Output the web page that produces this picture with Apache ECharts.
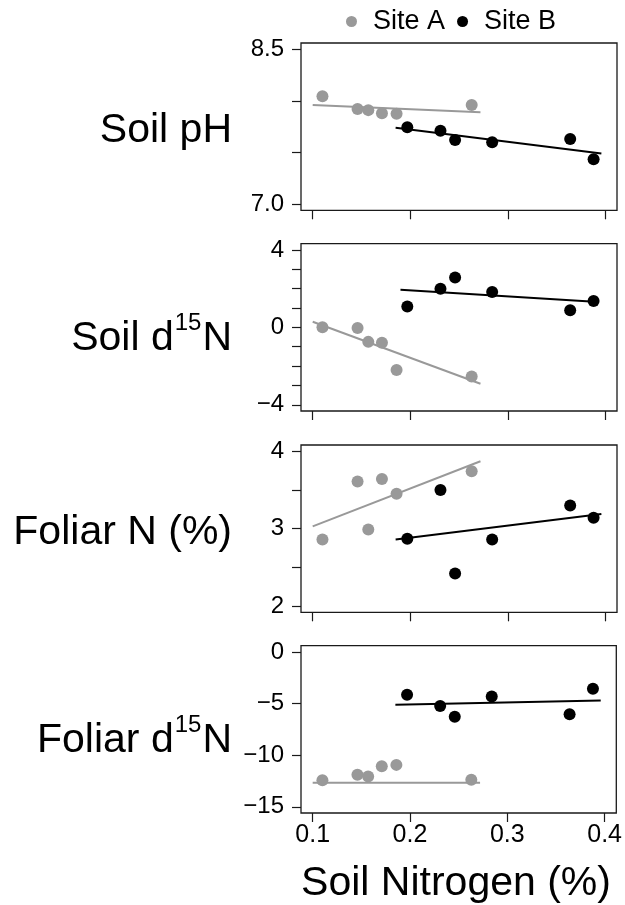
<!DOCTYPE html>
<html>
<head>
<meta charset="utf-8">
<script src="https://cdn.jsdelivr.net/npm/echarts@6/dist/echarts.min.js"></script>
<style>
  html, body { margin: 0; padding: 0; background: #fff; }
  #chart { width: 625px; height: 905px; }
</style>
</head>
<body>
<div id="chart"></div>
<script>
// Soil nitrogen (%) of the sampled plots at each site
const soilN_A = [0.110, 0.146, 0.157, 0.171, 0.186, 0.263];
const soilN_B = [0.197, 0.231, 0.246, 0.284, 0.364, 0.388];

// Responses, in the same plot order as above
const soilPH_A = [8.045, 7.92, 7.91, 7.88, 7.875, 7.96];
const soilPH_B = [7.745, 7.71, 7.62, 7.60, 7.63, 7.435];
const soilD15N_A = [0.0, -0.03, -0.75, -0.80, -2.20, -2.54];
const soilD15N_B = [1.08, 1.99, 2.58, 1.82, 0.88, 1.36];
const foliarN_A = [2.86, 3.61, 2.99, 3.64, 3.45, 3.74];
const foliarN_B = [2.87, 3.50, 2.42, 2.86, 3.30, 3.14];
const foliarD15N_A = [-12.43, -11.90, -12.07, -11.07, -10.94, -12.39];
const foliarD15N_B = [-4.16, -5.23, -6.29, -4.33, -6.04, -3.58];

// Fitted regression lines: x end points and fitted values at those ends
const fitX_A = [0.100, 0.272];
const fitX_B = [0.185, 0.396];
const fitX_B_soilD15N = [0.190, 0.393];
const soilPHFit_A = [7.96, 7.89];
const soilPHFit_B = [7.74, 7.49];
const soilD15NFit_A = [0.29, -2.91];
const soilD15NFit_B = [1.94, 1.31];
const foliarNFit_A = [3.03, 3.87];
const foliarNFit_B = [2.86, 3.19];
const foliarD15NFit_A = [-12.68, -12.68];
const foliarD15NFit_B = [-5.13, -4.71];

// Axis limits and ticks
const xLimits = [0.1, 0.4];
const xTicks = [0.1, 0.2, 0.3, 0.4];
const soilPHLimits = [7.0, 8.5];
const soilPHTicks = [7.0, 7.5, 8.0, 8.5];
const soilPHTickLabels = [7.0, 8.5];
const soilD15NLimits = [-4, 4];
const soilD15NTicks = [-4, -3, -2, -1, 0, 1, 2, 3, 4];
const soilD15NTickLabels = [-4, 0, 4];
const foliarNLimits = [2, 4];
const foliarNTicks = [2, 2.5, 3, 3.5, 4];
const foliarNTickLabels = [2, 3, 4];
const foliarD15NLimits = [-15, 0];
const foliarD15NTicks = [-15, -10, -5, 0];
const foliarD15NTickLabels = [-15, -10, -5, 0];

const siteNames = ['Site A', 'Site B'];
const xTitle = 'Soil Nitrogen (%)';

const FONT = '"Liberation Sans", Arial, Helvetica, sans-serif';
const GREY = '#999999';
const BLACK = '#000000';

// widen a range by 4% on each side
function pad(lim) {
  const d = (lim[1] - lim[0]) * 0.04;
  return [lim[0] - d, lim[1] + d];
}
function pairs(xs, ys) { return xs.map((x, i) => [x, ys[i]]); }
function minus(s) { return s.replace('-', '\u2212'); }

const panels = [
  { label: '{m|Soil pH}', lim: soilPHLimits, ticks: soilPHTicks, tickLabels: soilPHTickLabels, dec: 1,
    a: soilPH_A, b: soilPH_B, fitA: soilPHFit_A, fitB: soilPHFit_B, fxB: fitX_B },
  { label: '{m|Soil d}{s|15}{m|N}', lim: soilD15NLimits, ticks: soilD15NTicks, tickLabels: soilD15NTickLabels, dec: 0,
    a: soilD15N_A, b: soilD15N_B, fitA: soilD15NFit_A, fitB: soilD15NFit_B, fxB: fitX_B_soilD15N },
  { label: '{m|Foliar N (%)}', lim: foliarNLimits, ticks: foliarNTicks, tickLabels: foliarNTickLabels, dec: 0,
    a: foliarN_A, b: foliarN_B, fitA: foliarNFit_A, fitB: foliarNFit_B, fxB: fitX_B },
  { label: '{m|Foliar d}{s|15}{m|N}', lim: foliarD15NLimits, ticks: foliarD15NTicks, tickLabels: foliarD15NTickLabels, dec: 0,
    a: foliarD15N_A, b: foliarD15N_B, fitA: foliarD15NFit_A, fitB: foliarD15NFit_B, fxB: fitX_B }
];

// panel layout (pixels)
const plotLeft = 301, plotWidth = 316, plotHeight = 167.3;
const plotTops = [43, 243.7, 445, 645.7];
const labelRight = 232;
const labelTops = [103.5, 311.1, 505.1, 713.5];

const labelRich = {
  m: { fontSize: 41, fontFamily: FONT, lineHeight: 48, verticalAlign: 'bottom', fill: '#000' },
  s: { fontSize: 24, fontFamily: FONT, lineHeight: 22, verticalAlign: 'top', fill: '#000', padding: [0, 1, 0, 1] }
};

const xr = pad(xLimits);
const grid = [], xAxis = [], yAxis = [], series = [], graphic = [];

panels.forEach((p, i) => {
  const yr = pad(p.lim);
  grid.push({
    left: plotLeft, width: plotWidth, top: plotTops[i], height: plotHeight,
    show: true, borderColor: '#1a1a1a', borderWidth: 1.3, backgroundColor: 'transparent'
  });
  xAxis.push({
    type: 'value', gridIndex: i, min: xr[0], max: xr[1], position: 'bottom',
    axisLine: { show: false, onZero: false },
    axisTick: { show: true, inside: false, length: 9, customValues: xTicks,
                lineStyle: { color: '#1a1a1a', width: 1.2 } },
    axisLabel: { show: i === panels.length - 1, customValues: xTicks, margin: 10,
                 fontSize: 25, fontFamily: FONT, color: '#000',
                 formatter: v => v.toFixed(1) },
    splitLine: { show: false }
  });
  yAxis.push({
    type: 'value', gridIndex: i, min: yr[0], max: yr[1], position: 'left',
    axisLine: { show: false, onZero: false },
    axisTick: { show: true, inside: false, length: 9, customValues: p.ticks,
                lineStyle: { color: '#1a1a1a', width: 1.2 } },
    axisLabel: { show: true, customValues: p.tickLabels, margin: 17,
                 fontSize: 24, fontFamily: FONT, color: '#000',
                 formatter: v => minus(v.toFixed(p.dec)) },
    splitLine: { show: false }
  });
  series.push({
    type: 'line', name: 'Site A fit', xAxisIndex: i, yAxisIndex: i,
    data: pairs(fitX_A, p.fitA), showSymbol: false, silent: true, z: 2,
    lineStyle: { color: GREY, width: 2 }
  });
  series.push({
    type: 'line', name: 'Site B fit', xAxisIndex: i, yAxisIndex: i,
    data: pairs(p.fxB, p.fitB), showSymbol: false, silent: true, z: 2,
    lineStyle: { color: BLACK, width: 2 }
  });
  series.push({
    type: 'scatter', name: siteNames[0], xAxisIndex: i, yAxisIndex: i,
    data: pairs(soilN_A, p.a), symbol: 'circle', symbolSize: 12, z: 3,
    itemStyle: { color: GREY, opacity: 1 }
  });
  series.push({
    type: 'scatter', name: siteNames[1], xAxisIndex: i, yAxisIndex: i,
    data: pairs(soilN_B, p.b), symbol: 'circle', symbolSize: 12, z: 3,
    itemStyle: { color: BLACK, opacity: 1 }
  });
  graphic.push({
    type: 'text', x: labelRight, y: labelTops[i],
    style: { text: p.label, rich: labelRich, align: 'right', verticalAlign: 'top' }
  });
});

graphic.push({
  type: 'text', x: 456, y: 856,
  style: { text: '{m|' + xTitle + '}', rich: labelRich, align: 'center', verticalAlign: 'top' }
});

const chart = echarts.init(document.getElementById('chart'), null, { renderer: 'canvas' });
chart.setOption({
  animation: false,
  backgroundColor: '#fff',
  legend: {
    data: siteNames,
    left: 346, top: 8, padding: 0,
    icon: 'circle', itemWidth: 11, itemHeight: 11, itemGap: 12,
    textStyle: { fontSize: 27, fontFamily: FONT, color: '#000', padding: [0, 0, 0, 11] }
  },
  grid, xAxis, yAxis, series, graphic
});
</script>
</body>
</html>
